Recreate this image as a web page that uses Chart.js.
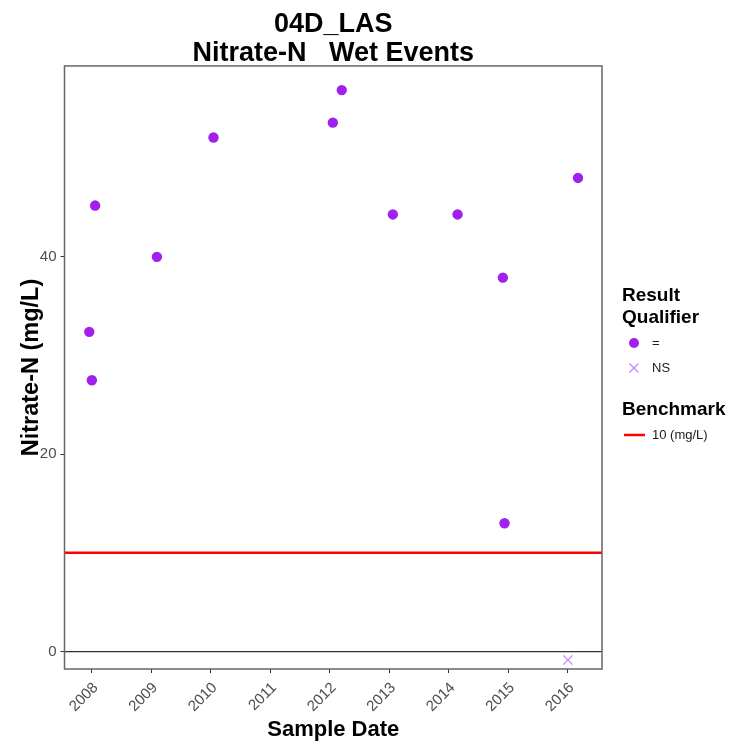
<!DOCTYPE html>
<html>
<head>
<meta charset="utf-8">
<script src="https://cdn.jsdelivr.net/npm/chart.js@4"></script>
<style>
  html, body { margin: 0; padding: 0; background: #fff; }
</style>
</head>
<body>
<canvas id="nitrateChart" width="729" height="746"></canvas>
<script>
// Sample dates and Nitrate-N results (mg/L), qualifier "="
const detectDates = ['2007-12-17', '2008-01-02', '2008-01-22', '2009-02-05', '2010-01-18',
                     '2012-01-20', '2012-03-15', '2013-01-23', '2014-02-24', '2014-11-29',
                     '2014-12-09', '2016-03-04'];
const detectValues = [32.4, 27.5, 45.2, 40.0, 52.1, 53.6, 56.9, 44.3, 44.3, 37.9, 13.0, 48.0];

// Qualifier "NS" (not sampled)
const nsDates = ['2016-01-02'];
const nsValues = [-0.86];

const benchmarkValue = 10;
const yearTicks = [2008, 2009, 2010, 2011, 2012, 2013, 2014, 2015, 2016];
const valueTicks = [0, 20, 40];
const xLimits = [2007.543, 2016.575];
const yLimits = [-1.77, 59.35];

const FONT = "'Liberation Sans', Arial, Helvetica, sans-serif";
Chart.defaults.font.family = FONT;

function decimalYear(s) {
    const d = new Date(s + 'T00:00:00Z');
    const y = d.getUTCFullYear();
    const start = Date.UTC(y, 0, 1);
    const end = Date.UTC(y + 1, 0, 1);
    return y + (d.getTime() - start) / (end - start);
}

const toPoints = (dates, values) => dates.map((d, i) => ({ x: decimalYear(d), y: values[i] }));

// border round the panel plus the ggplot-style legend
const panelAndLegend = {
    id: 'panelAndLegend',
    afterDraw(chart) {
        const ctx = chart.ctx;
        const a = chart.chartArea;
        ctx.save();
        ctx.strokeStyle = '#666';
        ctx.lineWidth = 1.5;
        ctx.strokeRect(a.left, a.top, a.right - a.left, a.bottom - a.top);

        ctx.fillStyle = '#000';
        ctx.textAlign = 'left';
        ctx.textBaseline = 'middle';
        ctx.font = 'bold 19px ' + FONT;
        ctx.fillText('Result', 622, 296);
        ctx.fillText('Qualifier', 622, 318);
        ctx.fillText('Benchmark', 622, 410);

        ctx.font = '13px ' + FONT;
        ctx.fillStyle = '#1a1a1a';
        ctx.fillText('=', 652, 343);
        ctx.fillText('NS', 652, 368);
        ctx.fillText('10 (mg/L)', 652, 435);

        ctx.fillStyle = '#A020F0';
        ctx.beginPath();
        ctx.arc(634, 343, 5, 0, Math.PI * 2);
        ctx.fill();

        ctx.strokeStyle = '#C080FF';
        ctx.lineWidth = 1.2;
        ctx.beginPath();
        ctx.moveTo(629.5, 363.5); ctx.lineTo(638.5, 372.5);
        ctx.moveTo(638.5, 363.5); ctx.lineTo(629.5, 372.5);
        ctx.stroke();

        ctx.strokeStyle = '#FF0000';
        ctx.lineWidth = 2.5;
        ctx.beginPath();
        ctx.moveTo(624, 435); ctx.lineTo(645, 435);
        ctx.stroke();
        ctx.restore();
    }
};

const ctx = document.getElementById('nitrateChart').getContext('2d');
new Chart(ctx, {
    type: 'scatter',
    data: {
        datasets: [
            {
                label: '=',
                data: toPoints(detectDates, detectValues),
                backgroundColor: '#A020F0',
                borderWidth: 0,
                pointRadius: 5.2,
                order: 0
            },
            {
                label: 'NS',
                data: toPoints(nsDates, nsValues),
                pointStyle: 'crossRot',
                borderColor: '#C080FF',
                borderWidth: 1.2,
                pointRadius: 6.6,
                order: 0
            },
            {
                label: '10 (mg/L)',
                data: [{ x: xLimits[0], y: benchmarkValue }, { x: xLimits[1], y: benchmarkValue }],
                showLine: true,
                borderColor: '#FF0000',
                borderWidth: 2.5,
                pointRadius: 0,
                order: 1
            },
            {
                label: 'zero',
                data: [{ x: xLimits[0], y: 0 }, { x: xLimits[1], y: 0 }],
                showLine: true,
                borderColor: '#333',
                borderWidth: 1.2,
                pointRadius: 0,
                order: 2
            }
        ]
    },
    options: {
        responsive: false,
        animation: false,
        layout: { padding: { left: 0, right: 127, top: 0, bottom: 0 } },
        plugins: {
            legend: { display: false },
            tooltip: { enabled: false },
            title: {
                display: true,
                fullSize: false,
                text: ['04D_LAS', 'Nitrate-N   Wet Events'],
                color: '#000',
                font: { size: 27, weight: 'bold', lineHeight: 1.06 },
                padding: { top: 10.2, bottom: -1.5 }
            }
        },
        scales: {
            x: {
                type: 'linear',
                min: xLimits[0],
                max: xLimits[1],
                afterBuildTicks: s => { s.ticks = yearTicks.map(v => ({ value: v })); },
                afterFit: s => { s.height = 77; },
                grid: { drawOnChartArea: false, tickLength: 4, color: '#333' },
                border: { display: false },
                ticks: {
                    callback: v => String(v),
                    color: '#4D4D4D',
                    font: { size: 15 },
                    minRotation: 45,
                    maxRotation: 45,
                    labelOffset: 4,
                    padding: 6
                },
                title: {
                    display: true,
                    text: 'Sample Date',
                    color: '#000',
                    font: { size: 22, weight: 'bold' },
                    padding: { top: 0, bottom: 2.8 }
                }
            },
            y: {
                min: yLimits[0],
                max: yLimits[1],
                afterBuildTicks: s => { s.ticks = valueTicks.map(v => ({ value: v })); },
                afterFit: s => { s.width = 64.5; },
                grid: { drawOnChartArea: false, tickLength: 4, color: '#333' },
                border: { display: false },
                ticks: {
                    color: '#4D4D4D',
                    font: { size: 15 },
                    padding: 4
                },
                title: {
                    display: true,
                    text: 'Nitrate-N (mg/L)',
                    color: '#000',
                    font: { size: 23.5, weight: 'bold' },
                    padding: { top: 17, bottom: 0 }
                }
            }
        }
    },
    plugins: [panelAndLegend]
});
</script>
</body>
</html>
